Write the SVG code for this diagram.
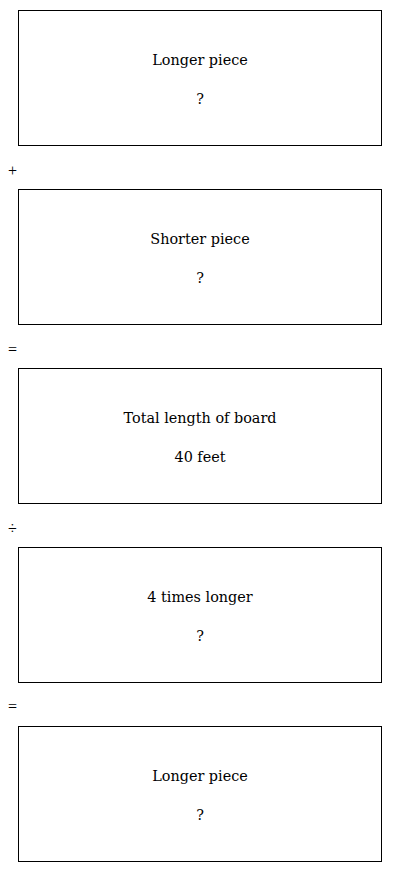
<svg xmlns="http://www.w3.org/2000/svg" width="400" height="872" viewBox="0 0 400 872">
<style>
.box{fill:#fff;stroke:#000;stroke-width:1}
text{font-family:"DejaVu Serif","Liberation Serif",serif;font-size:14.4px;fill:#000}
.t{text-anchor:middle}
.op{font-family:"Liberation Serif",serif;font-size:16px}
</style>
<rect width="400" height="872" fill="#fff"/>
<g id="n1"><rect class="box" x="18.5" y="10.5" width="363" height="135"/><text class="t" x="200" y="65">Longer piece</text><text class="t" x="200" y="104">?</text></g>
<g id="op1"><text class="op" x="8" y="176">+</text></g>
<g id="n2"><rect class="box" x="18.5" y="189.5" width="363" height="135"/><text class="t" x="200" y="244">Shorter piece</text><text class="t" x="200" y="283">?</text></g>
<g id="op2"><text class="op" x="8" y="355">=</text></g>
<g id="n3"><rect class="box" x="18.5" y="368.5" width="363" height="135"/><text class="t" x="200" y="423">Total length of board</text><text class="t" x="200" y="462">40 feet</text></g>
<g id="op3"><text class="op" x="8" y="534">÷</text></g>
<g id="n4"><rect class="box" x="18.5" y="547.5" width="363" height="135"/><text class="t" x="200" y="602">4 times longer</text><text class="t" x="200" y="641">?</text></g>
<g id="op4"><text class="op" x="8" y="712">=</text></g>
<g id="n5"><rect class="box" x="18.5" y="726.5" width="363" height="135"/><text class="t" x="200" y="781">Longer piece</text><text class="t" x="200" y="820">?</text></g>
<g id="connectors"></g>
</svg>
